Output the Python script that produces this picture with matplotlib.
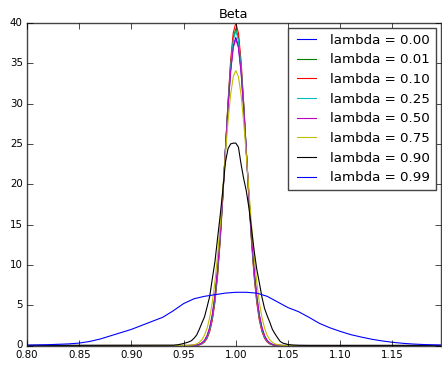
import matplotlib
matplotlib.use("Agg")
import matplotlib.pyplot as plt

# grid used for the narrow densities
x_narrow = [0.80, 0.94, 0.945, 0.95, 0.955, 0.9575, 0.96, 0.9625, 0.965, 0.9675,
            0.97, 0.9725, 0.975, 0.9775, 0.98, 0.9825, 0.985, 0.9875, 0.99, 0.9925,
            0.995, 0.9975, 1.00, 1.0025, 1.005, 1.0075, 1.01, 1.0125, 1.015, 1.0175,
            1.02, 1.0225, 1.025, 1.0275, 1.03, 1.0325, 1.035, 1.0375, 1.04, 1.0425,
            1.045, 1.05, 1.055, 1.06, 1.07, 1.20]

lam_000 = [0, 0, 0, 0, 0, 0.01, 0.025, 0.06, 0.14, 0.30, 0.61, 1.19, 2.17, 3.74, 6.10,
           9.37, 13.61, 18.65, 24.14, 29.51, 34.06, 37.12, 38.2, 37.12, 34.06, 29.51,
           24.14, 18.65, 13.61, 9.37, 6.10, 3.74, 2.17, 1.19, 0.61, 0.30, 0.14, 0.06,
           0.025, 0.01, 0, 0, 0, 0, 0, 0]
lam_001 = [0, 0, 0, 0, 0, 0.006, 0.015, 0.04, 0.10, 0.23, 0.50, 1.00, 1.89, 3.37, 5.64,
           8.89, 13.19, 18.41, 24.19, 29.91, 34.81, 38.13, 39.3, 38.13, 34.81, 29.91,
           24.19, 18.41, 13.19, 8.89, 5.64, 3.37, 1.89, 1.00, 0.50, 0.23, 0.10, 0.04,
           0.015, 0.006, 0, 0, 0, 0, 0, 0]
lam_010 = [0, 0, 0, 0, 0, 0.005, 0.013, 0.034, 0.085, 0.20, 0.43, 0.89, 1.73, 3.14, 5.36,
           8.58, 12.91, 18.24, 24.2, 30.15, 35.28, 38.76, 40.0, 38.76, 35.28, 30.15,
           24.2, 18.24, 12.91, 8.58, 5.36, 3.14, 1.73, 0.89, 0.43, 0.20, 0.085, 0.034,
           0.013, 0.005, 0, 0, 0, 0, 0, 0]
lam_025 = [0, 0, 0, 0, 0, 0.008, 0.02, 0.05, 0.11, 0.25, 0.53, 1.05, 1.97, 3.47, 5.77,
           9.03, 13.31, 18.49, 24.19, 29.81, 34.61, 37.85, 39.0, 37.85, 34.61, 29.81,
           24.19, 18.49, 13.31, 9.03, 5.77, 3.47, 1.97, 1.05, 0.53, 0.25, 0.11, 0.05,
           0.02, 0.008, 0, 0, 0, 0, 0, 0]
lam_050 = [0, 0, 0, 0, 0, 0.01, 0.025, 0.065, 0.15, 0.32, 0.64, 1.23, 2.23, 3.83, 6.19,
           9.48, 13.70, 18.71, 24.15, 29.44, 33.93, 36.94, 38.0, 36.94, 33.93, 29.44,
           24.15, 18.71, 13.70, 9.48, 6.19, 3.83, 2.23, 1.23, 0.64, 0.32, 0.15, 0.065,
           0.025, 0.01, 0, 0, 0, 0, 0, 0]
lam_075 = [0, 0, 0, 0.005, 0.02, 0.045, 0.10, 0.20, 0.39, 0.72, 1.27, 2.15, 3.48, 5.37,
           7.91, 11.14, 14.99, 19.27, 23.67, 27.77, 31.12, 33.33, 34.1, 33.33, 31.12,
           27.77, 23.67, 19.27, 14.99, 11.14, 7.91, 5.37, 3.48, 2.15, 1.27, 0.72, 0.39,
           0.20, 0.10, 0.045, 0.02, 0.005, 0, 0, 0, 0]
lam_090 = [0, 0.03, 0.1, 0.25, 0.45, 0.6, 0.9, 1.3, 2.0, 2.8, 3.55, 4.8, 6.1, 8.3, 10.4,
           13.3, 16.1, 19.2, 22.7, 24.4, 25.0, 25.1, 25.1, 24.6, 22.5, 20.7, 19.2, 17.1,
           14.5, 11.8, 9.5, 7.8, 6.0, 4.6, 3.7, 2.9, 2.0, 1.45, 0.95, 0.5, 0.3, 0.12,
           0.05, 0.02, 0.0, 0.0]

x_wide = [0.80, 0.82, 0.84, 0.85, 0.86, 0.87, 0.88, 0.89, 0.90, 0.91, 0.92, 0.93, 0.94,
          0.95, 0.96, 0.97, 0.98, 0.99, 1.00, 1.01, 1.02, 1.03, 1.04, 1.05, 1.06, 1.07,
          1.08, 1.09, 1.10, 1.11, 1.12, 1.13, 1.14, 1.15, 1.16, 1.17, 1.18, 1.19, 1.20]
lam_099 = [0.05, 0.1, 0.2, 0.3, 0.5, 0.8, 1.2, 1.6, 2.0, 2.5, 3.0, 3.5, 4.3, 5.2, 5.8,
           6.1, 6.3, 6.5, 6.6, 6.6, 6.5, 6.1, 5.4, 4.7, 4.2, 3.5, 2.75, 2.2, 1.75, 1.35,
           1.05, 0.78, 0.57, 0.4, 0.27, 0.18, 0.12, 0.08, 0.05]

labels = ["lambda = 0.00", "lambda = 0.01", "lambda = 0.10", "lambda = 0.25",
          "lambda = 0.50", "lambda = 0.75", "lambda = 0.90", "lambda = 0.99"]
colors = ["b", "g", "r", "c", "m", "y", "k", "b"]

plt.style.use("classic")
plt.rcParams["figure.facecolor"] = "white"
plt.rcParams["axes.edgecolor"] = "#444444"

fig = plt.figure(figsize=(4.42, 3.65), dpi=100)
ax = fig.add_axes([27 / 442, 19.5 / 365, 414 / 442, 322.5 / 365])

series = [lam_000, lam_001, lam_010, lam_025, lam_050, lam_075, lam_090]
for ys, c, lab in zip(series, colors[:7], labels[:7]):
    ax.plot(x_narrow, ys, color=c, lw=0.8, label=lab)
ax.plot(x_wide, lam_099, color=colors[7], lw=0.8, label=labels[7])

ax.set_xlim(0.8, 1.1965)
ax.set_ylim(0, 40)
ax.set_xticks([0.80, 0.85, 0.90, 0.95, 1.00, 1.05, 1.10, 1.15])
ax.set_xticklabels(["0.80", "0.85", "0.90", "0.95", "1.00", "1.05", "1.10", "1.15"])
ax.set_yticks(range(0, 41, 5))
ax.tick_params(labelsize=7.4, pad=3)
ax.set_title("Beta", fontsize=9.2, pad=3.5)

ax.legend(loc="upper right", fontsize=9.6, borderaxespad=0.4)

fig.savefig("out.png", dpi=100)
